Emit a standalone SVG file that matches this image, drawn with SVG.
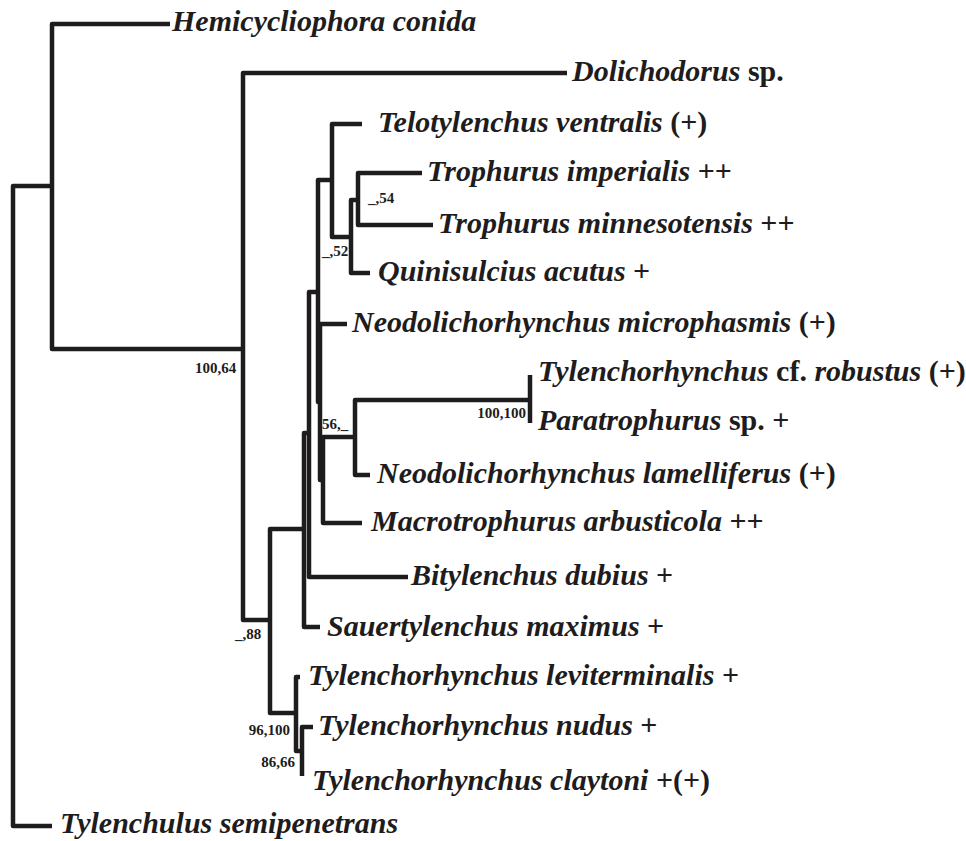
<svg xmlns="http://www.w3.org/2000/svg" width="966" height="841" viewBox="0 0 966 841">
<style>
.e{fill:none;stroke:#1e1c1c;stroke-width:4.5;stroke-linejoin:round;stroke-linecap:butt}
.t{font-family:"Liberation Serif","Times New Roman",serif;font-size:30px;font-weight:bold;font-style:italic;fill:#1e1c1c}
.u{font-style:normal}
.b{font-family:"Liberation Serif","Times New Roman",serif;font-size:15px;font-weight:bold;fill:#1e1c1c}
</style>
<rect width="966" height="841" fill="#fff"/>
<g id="connectors">
<path class="e" d="M52,186 H13 V826 H52"/>
<path class="e" d="M170,24 H52 V349 H243"/>
<path class="e" d="M567,73 H243 V620 H270"/>
<path class="e" d="M304,529 H270 V713 H296"/>
<path class="e" d="M309,433 H304 V627 H320"/>
<path class="e" d="M318,292 H309 V577 H408"/>
<path class="e" d="M332,180 H318 V402 H320"/>
<path class="e" d="M362,124 H332 V237 H351"/>
<path class="e" d="M358,200 H351 V273 H370"/>
<path class="e" d="M422,173 H358 V225 H433"/>
<path class="e" d="M347,324 H320 V480 H323"/>
<path class="e" d="M355,437 H323 V523 H362"/>
<path class="e" d="M530,400 H355 V475 H370"/>
<path class="e" d="M530,375 V423"/>
<path class="e" d="M300,677 H296 V751 H302"/>
<path class="e" d="M313,727 H302 V776"/>
</g>
<g id="support-values">
<text class="b" x="195" y="373">100,64</text>
<text class="b" x="235" y="639">_,88</text>
<text class="b" x="322" y="256">_,52</text>
<text class="b" x="368" y="203">_,54</text>
<text class="b" x="322" y="429">56,_</text>
<text class="b" x="526" y="418" text-anchor="end">100,100</text>
<text class="b" x="290" y="735" text-anchor="end">96,100</text>
<text class="b" x="295" y="767" text-anchor="end">86,66</text>
</g>
<g id="hemicycliophora-conida"><text class="t" x="172" y="31">Hemicycliophora conida</text></g>
<g id="dolichodorus-sp"><text class="t" x="572" y="81">Dolichodorus<tspan class="u"> sp.</tspan></text></g>
<g id="telotylenchus-ventralis"><text class="t" x="378" y="132">Telotylenchus ventralis<tspan class="u"> (+)</tspan></text></g>
<g id="trophurus-imperialis"><text class="t" x="427" y="181">Trophurus imperialis<tspan class="u"> ++</tspan></text></g>
<g id="trophurus-minnesotensis"><text class="t" x="438" y="233">Trophurus minnesotensis<tspan class="u"> ++</tspan></text></g>
<g id="quinisulcius-acutus"><text class="t" x="378" y="281">Quinisulcius acutus<tspan class="u"> +</tspan></text></g>
<g id="neodolichorhynchus-microphasmis"><text class="t" x="352" y="332">Neodolichorhynchus microphasmis<tspan class="u"> (+)</tspan></text></g>
<g id="tylenchorhynchus-robustus"><text class="t" x="538" y="381">Tylenchorhynchus<tspan class="u"> cf. </tspan>robustus<tspan class="u"> (+)</tspan></text></g>
<g id="paratrophurus-sp"><text class="t" x="538" y="430">Paratrophurus<tspan class="u"> sp. +</tspan></text></g>
<g id="neodolichorhynchus-lamelliferus"><text class="t" x="377" y="483">Neodolichorhynchus lamelliferus<tspan class="u"> (+)</tspan></text></g>
<g id="macrotrophurus-arbusticola"><text class="t" x="371" y="531">Macrotrophurus arbusticola<tspan class="u"> ++</tspan></text></g>
<g id="bitylenchus-dubius"><text class="t" x="411" y="585">Bitylenchus dubius<tspan class="u"> +</tspan></text></g>
<g id="sauertylenchus-maximus"><text class="t" x="327" y="636">Sauertylenchus maximus<tspan class="u"> +</tspan></text></g>
<g id="tylenchorhynchus-leviterminalis"><text class="t" x="308" y="685">Tylenchorhynchus leviterminalis<tspan class="u"> +</tspan></text></g>
<g id="tylenchorhynchus-nudus"><text class="t" x="318" y="735">Tylenchorhynchus nudus<tspan class="u"> +</tspan></text></g>
<g id="tylenchorhynchus-claytoni"><text class="t" x="312" y="790">Tylenchorhynchus claytoni<tspan class="u"> +(+)</tspan></text></g>
<g id="tylenchulus-semipenetrans"><text class="t" x="60" y="833">Tylenchulus semipenetrans</text></g>
</svg>
